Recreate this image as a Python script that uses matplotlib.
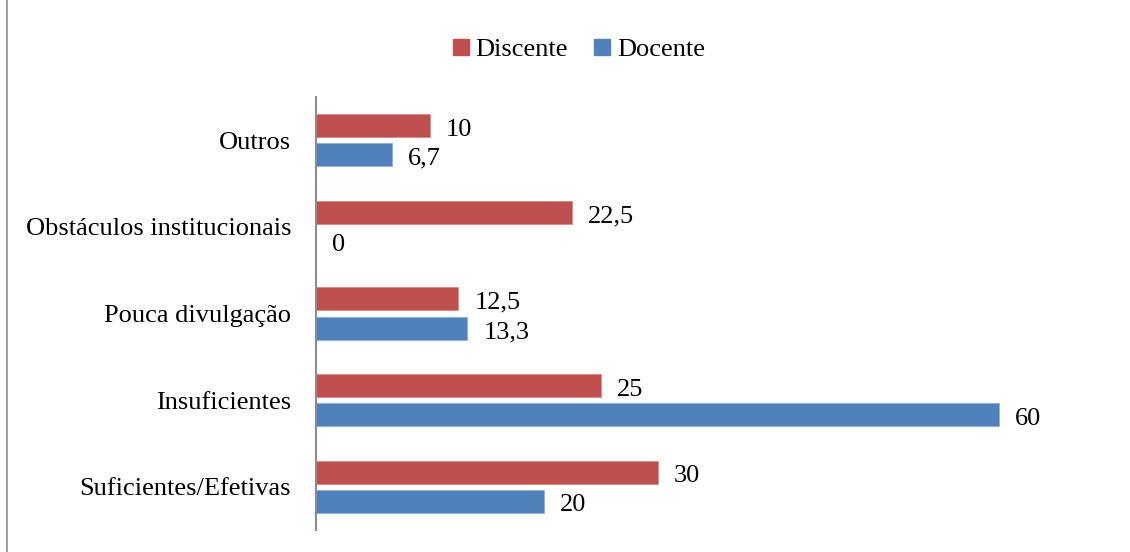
import numpy as np
import matplotlib
matplotlib.use("Agg")
import matplotlib.pyplot as plt
from matplotlib.lines import Line2D

plt.rcParams['font.family'] = ['Liberation Serif', 'DejaVu Serif']

categories = ["Suficientes/Efetivas", "Insuficientes", "Pouca divulgação",
              "Obstáculos institucionais", "Outros"]
discente = [30, 25, 12.5, 22.5, 10]
docente = [20, 60, 13.3, 0, 6.7]
series_names = ["Discente", "Docente"]
value_labels_discente = ["30", "25", "12,5", "22,5", "10"]
value_labels_docente = ["20", "60", "13,3", "0", "6,7"]

red = "#C0504D"
blue = "#4F81BD"
fs = 19

fig = plt.figure(figsize=(11.3, 5.52), dpi=100)
ax = fig.add_axes([316 / 1130, 1 - 530 / 552, (1113 - 316) / 1130, (530 - 97) / 552])

y = np.arange(len(categories))
h = 0.266
off = 0.168

b1 = ax.barh(y + off, discente, height=h, color=red, edgecolor="#d98a88", linewidth=0.6)
b2 = ax.barh(y - off, docente, height=h, color=blue, edgecolor="#8fb0d8", linewidth=0.6)

# value labels to the right of each bar
for bars, labels in ((b1, value_labels_discente), (b2, value_labels_docente)):
    for rect, lab in zip(bars, labels):
        ax.annotate(lab, (rect.get_width(), rect.get_y() + rect.get_height() / 2),
                    xytext=(16, -4), textcoords="offset pixels",
                    ha="left", va="center", fontsize=fs)

ax.set_xlim(0, 70)
ax.set_ylim(-0.5, len(categories) - 0.5)
ax.set_yticks(y)
ax.set_yticklabels(categories, fontsize=fs)
ax.tick_params(axis="y", length=0, pad=18)
ax.set_xticks([])
for side in ("top", "right", "bottom"):
    ax.spines[side].set_visible(False)
ax.spines["left"].set_color("#8c8c8c")
ax.spines["left"].set_linewidth(1.5)

handles = [plt.Rectangle((0, 0), 1, 1, color=red), plt.Rectangle((0, 0), 1, 1, color=blue)]
fig.legend(handles, series_names, loc="center", bbox_to_anchor=(579 / 1130, 1 - 50 / 552),
           ncol=2, frameon=False, fontsize=fs, handlelength=0.6, handleheight=0.6,
           handletextpad=0.25, columnspacing=1.0)

# chart frame edge on the left
fig.add_artist(Line2D([7 / 1130, 7 / 1130], [0, 1], transform=fig.transFigure,
                      color="#8c8c8c", linewidth=1.2))

fig.savefig("out.png", dpi=100)
